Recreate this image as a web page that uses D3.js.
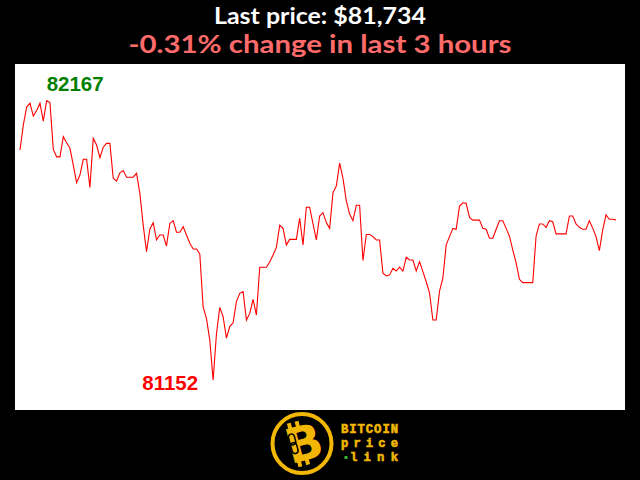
<!DOCTYPE html>
<html>
<head>
<meta charset="utf-8">
<script src="https://cdn.jsdelivr.net/npm/d3@7"></script>
<style>
  html, body { margin: 0; padding: 0; background: #000; }
  svg { display: block; }
</style>
</head>
<body>
<svg id="chart" width="640" height="480"></svg>
<script>
// ---- data (one price per minute, last 3 hours) ----
const minutes = d3.range(180);
const prices = [
  81988, 82079, 82144, 82158, 82111, 82131, 82158, 82093, 82167, 82160,
  81990, 81963, 81963, 82036, 82014, 81994, 81933, 81869, 81897, 81954,
  81954, 81852, 82030, 82006, 81960, 81998, 82012, 82012, 81885, 81875,
  81905, 81913, 81889, 81889, 81889, 81903, 81830, 81715, 81618, 81700,
  81724, 81661, 81679, 81679, 81639, 81721, 81731, 81689, 81689, 81709,
  81679, 81649, 81628, 81628, 81610, 81418, 81376, 81297, 81152, 81319,
  81416, 81382, 81304, 81346, 81360, 81437, 81467, 81473, 81370, 81394,
  81445, 81388, 81562, 81562, 81562, 81581, 81606, 81634, 81714, 81703,
  81643, 81663, 81663, 81663, 81740, 81643, 81780, 81780, 81719, 81661,
  81748, 81760, 81724, 81703, 81833, 81857, 81940, 81885, 81804, 81755,
  81731, 81787, 81787, 81586, 81681, 81681, 81673, 81661, 81661, 81540,
  81530, 81534, 81558, 81548, 81562, 81548, 81598, 81588, 81588, 81548,
  81582, 81546, 81509, 81468, 81370, 81370, 81475, 81522, 81643, 81673,
  81703, 81700, 81784, 81796, 81794, 81743, 81733, 81733, 81733, 81703,
  81700, 81667, 81667, 81700, 81731, 81731, 81703, 81675, 81624, 81578,
  81518, 81506, 81506, 81506, 81506, 81675, 81719, 81719, 81706, 81731,
  81727, 81683, 81683, 81683, 81683, 81748, 81748, 81719, 81707, 81700,
  81700, 81731, 81704, 81673, 81622, 81697, 81752, 81736, 81736, 81734
];
const periodLabel = "last 3 hours";
const brandLines = ["BITCOIN", "price", "link"];

// ---- layout ----
const W = 640, H = 480;
const plot = { left: 15, top: 64, right: 625, bottom: 410 };
const svg = d3.select("#chart");

svg.append("rect").attr("x", 0).attr("y", 0).attr("width", W).attr("height", H).attr("fill", "#000");
svg.append("rect")
  .attr("x", plot.left).attr("y", plot.top)
  .attr("width", plot.right - plot.left).attr("height", plot.bottom - plot.top)
  .attr("fill", "#fff");

const x = d3.scaleLinear().domain(d3.extent(minutes)).range([20, 616]);
const yMin = d3.min(prices), yMax = d3.max(prices);
const y = d3.scaleLinear().domain([yMin, yMax]).range([plot.bottom - 30, plot.top + 36.7]);

const line = d3.line().x((d, i) => x(minutes[i])).y(d => y(d));
svg.append("path").datum(prices)
  .attr("d", line)
  .attr("fill", "none")
  .attr("stroke", "#ff0000")
  .attr("stroke-width", 1.1)
  .attr("stroke-linejoin", "miter");

// max / min labels
const iMax = prices.indexOf(yMax), iMin = prices.indexOf(yMin);
svg.append("text")
  .attr("x", x(minutes[iMax])).attr("y", y(yMax) - 10)
  .attr("text-anchor", "start")
  .attr("font-family", "'Liberation Sans', Arial, sans-serif")
  .attr("font-weight", "bold").attr("font-size", 20.5)
  .attr("fill", "#008000")
  .text(yMax);
svg.append("text")
  .attr("x", x(minutes[iMin]) - 15).attr("y", y(yMin) + 10)
  .attr("text-anchor", "end")
  .attr("font-family", "'Liberation Sans', Arial, sans-serif")
  .attr("font-weight", "bold").attr("font-size", 20.5)
  .attr("fill", "#ff0000")
  .text(yMin);

// titles
const last = prices[prices.length - 1], first = prices[0];
const pct = (last - first) / first * 100;
const t1 = "Last price: $" + d3.format(",")(last);
const t2 = pct.toFixed(2) + "% change in " + periodLabel;
svg.append("text")
  .attr("x", 320).attr("y", 24)
  .attr("text-anchor", "middle")
  .attr("font-family", "Lato, 'Open Sans', sans-serif")
  .attr("font-weight", 700).attr("font-size", 23)
  .attr("fill", "#fff")
  .attr("textLength", 212).attr("lengthAdjust", "spacingAndGlyphs")
  .text(t1);
svg.append("text")
  .attr("x", 320).attr("y", 52.5)
  .attr("text-anchor", "middle")
  .attr("font-family", "Lato, 'Open Sans', sans-serif")
  .attr("font-weight", 700).attr("font-size", 25.5)
  .attr("fill", pct < 0 ? "#ff6b6b" : "#66dd66")
  .attr("textLength", 383).attr("lengthAdjust", "spacingAndGlyphs")
  .text(t2);

// ---- logo ----
const gold = "#f2b705";
const logo = svg.append("g").attr("transform", "translate(302,443.5)");
logo.append("circle").attr("r", 29.5).attr("fill", "#000").attr("stroke", gold).attr("stroke-width", 4);
const bg = logo.append("g").attr("transform", "rotate(-15)");
bg.append("text")
  .attr("x", 2).attr("y", 17)
  .attr("text-anchor", "middle")
  .attr("font-family", "'DejaVu Sans', sans-serif")
  .attr("font-weight", "bold").attr("font-size", 48)
  .attr("fill", gold)
  .text("B");
// bitcoin ticks
[-8, 0].forEach(dx => {
  bg.append("rect").attr("x", dx - 1.5).attr("y", -23).attr("width", 4).attr("height", 6).attr("fill", gold);
  bg.append("rect").attr("x", dx - 1.5).attr("y", 16).attr("width", 4).attr("height", 6).attr("fill", gold);
});
// chain link on stem
bg.append("rect").attr("x", -11.5).attr("y", -12).attr("width", 6).attr("height", 11).attr("rx", 3)
  .attr("fill", "none").attr("stroke", "#000").attr("stroke-width", 1.5);
bg.append("rect").attr("x", -11.5).attr("y", -3).attr("width", 6).attr("height", 11).attr("rx", 3)
  .attr("fill", "none").attr("stroke", "#000").attr("stroke-width", 1.5);

const brandY = [433, 447, 461];
brandLines.forEach((s, i) => {
  svg.append("text")
    .attr("x", i === 2 ? 350 : 341).attr("y", brandY[i])
    .attr("font-family", "'Liberation Mono', 'DejaVu Sans Mono', monospace")
    .attr("font-weight", "bold").attr("font-size", 12.2)
    .attr("fill", gold)
    .attr("stroke", gold).attr("stroke-width", 0.6)
    .attr("textLength", i === 2 ? 48 : 57).attr("lengthAdjust", "spacing")
    .text(s);
});
svg.append("rect").attr("x", 344.5).attr("y", 456).attr("width", 3).attr("height", 3).attr("fill", "#2fb82f");
</script>
</body>
</html>
